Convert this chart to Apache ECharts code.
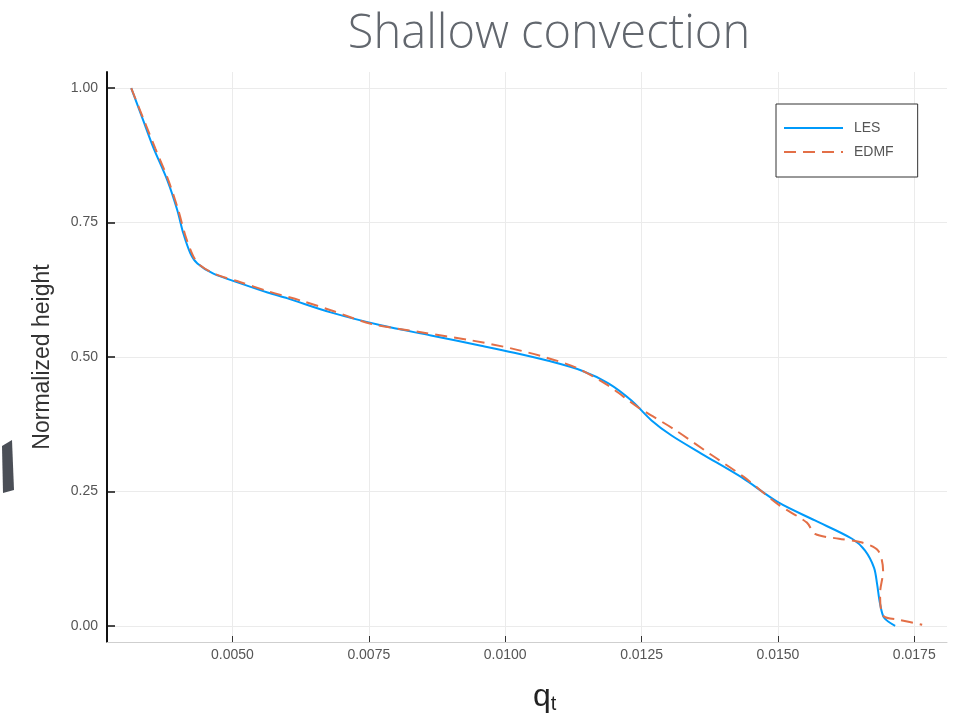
<!DOCTYPE html>
<html><head><meta charset="utf-8">
<script src="https://cdn.jsdelivr.net/npm/echarts@6/dist/echarts.min.js"></script>
<style>html,body{margin:0;padding:0;background:#fff}#c{width:969px;height:724px}</style>
</head><body><div id="c"></div>
<script>
// LES profile: total water specific humidity q_t vs normalized height
const lesQt = [0.003144,0.003364,0.003548,0.003805,0.003989,0.004099,0.004228,0.004357,0.004651,0.005147,0.005643,0.006011,0.006801,0.007720,0.008639,0.009558,0.010165,0.010790,0.011396,0.011893,0.012315,0.012683,0.013050,0.013602,0.014337,0.015017,0.015679,0.016359,0.016598,0.016763,0.016818,0.016873,0.016947,0.017149];
const lesZ  = [1.000,0.940,0.890,0.829,0.773,0.730,0.693,0.674,0.655,0.637,0.620,0.609,0.583,0.559,0.540,0.521,0.508,0.493,0.475,0.451,0.419,0.382,0.354,0.320,0.276,0.229,0.196,0.162,0.140,0.108,0.078,0.041,0.015,0.000];
// EDMF profile
const edmfQt = [0.003144,0.003364,0.003585,0.003824,0.004007,0.004136,0.004283,0.004412,0.004688,0.005147,0.005662,0.006250,0.006801,0.007536,0.008455,0.009374,0.010110,0.010753,0.011304,0.011856,0.012444,0.013106,0.013749,0.014374,0.015017,0.015532,0.015679,0.016120,0.016543,0.016837,0.016929,0.016873,0.016929,0.017241,0.017645];
const edmfZ  = [1.000,0.944,0.888,0.829,0.773,0.726,0.687,0.670,0.654,0.639,0.622,0.605,0.587,0.562,0.546,0.531,0.516,0.499,0.480,0.449,0.406,0.365,0.320,0.277,0.225,0.192,0.171,0.162,0.155,0.140,0.102,0.061,0.019,0.011,0.002];
const xTicks = [0.0050,0.0075,0.0100,0.0125,0.0150,0.0175];
const yTicks = [0.00,0.25,0.50,0.75,1.00];
const seriesNames = ['LES','EDMF'];

const zip = (a,b) => a.map((v,i)=>[v,b[i]]);
const chart = echarts.init(document.getElementById('c'), null, {renderer:'canvas'});
chart.setOption({
  animation:false,
  backgroundColor:'#ffffff',
  title:{
    text:'Shallow convection', left:544, top:6, textAlign:'center',
    textStyle:{fontFamily:'Open Sans', fontWeight:300, fontSize:47, color:'#62676e'}
  },
  grid:{left:107, right:22, top:72, bottom:82, containLabel:false},
  legend:{
    orient:'vertical', left:776, top:104,
    padding:[17,24,18,7], itemGap:10, itemWidth:59, itemHeight:14,
    borderColor:'#333', borderWidth:1, backgroundColor:'#fff',
    itemStyle:{opacity:0},
    textStyle:{fontSize:14, color:'#555', fontFamily:'Liberation Sans', padding:[0,0,0,6]},
    data:seriesNames
  },
  xAxis:{
    type:'value', min:0.0027, max:0.0181,
    axisLine:{show:true, onZero:false, lineStyle:{color:'#cfcfcf', width:1}},
    axisTick:{show:true, inside:true, length:6, customValues:xTicks, lineStyle:{color:'#333'}},
    axisLabel:{customValues:xTicks, formatter:v=>v.toFixed(4), fontSize:14, color:'#555', margin:6, fontFamily:'Liberation Sans'},
    splitLine:{show:true, lineStyle:{color:'#ebebeb', width:1}}
  },
  yAxis:{
    type:'value', min:-0.03, max:1.03,
    name:'Normalized height', nameLocation:'middle', nameGap:53,
    nameTextStyle:{fontSize:23, color:'#333', fontFamily:'Liberation Sans'},
    axisLine:{show:true, onZero:false, lineStyle:{color:'#111', width:2}},
    axisTick:{show:true, inside:true, length:8, customValues:yTicks, lineStyle:{color:'#111', width:1.5}},
    axisLabel:{customValues:yTicks, formatter:v=>v.toFixed(2), fontSize:14, color:'#555', margin:9, fontFamily:'Liberation Sans'},
    splitLine:{show:true, lineStyle:{color:'#ebebeb', width:1}}
  },
  graphic:[
    {type:'text', left:533, top:681, style:{
      text:'{q|q}{t|t}',
      rich:{q:{fontSize:32, fontFamily:'Liberation Sans', fill:'#222'}, t:{fontSize:20, fontFamily:'Liberation Sans', fill:'#222', padding:[15,0,0,0]}}
    }},
    {type:'polygon', shape:{points:[[2,446],[12,440],[14,490],[3,493]]}, style:{fill:'#4b4f57'}}
  ],
  series:[
    {name:seriesNames[0], type:'line', data:zip(lesQt,lesZ), symbol:'none', smooth:0.3,
     lineStyle:{color:'#009AFA', width:2}, itemStyle:{color:'#009AFA'}, z:2},
    {name:seriesNames[1], type:'line', data:zip(edmfQt,edmfZ), symbol:'none', smooth:0.3,
     lineStyle:{color:'#E36F47', width:2, type:[12,7]}, itemStyle:{color:'#E36F47'}, z:3}
  ]
});
</script></body></html>
